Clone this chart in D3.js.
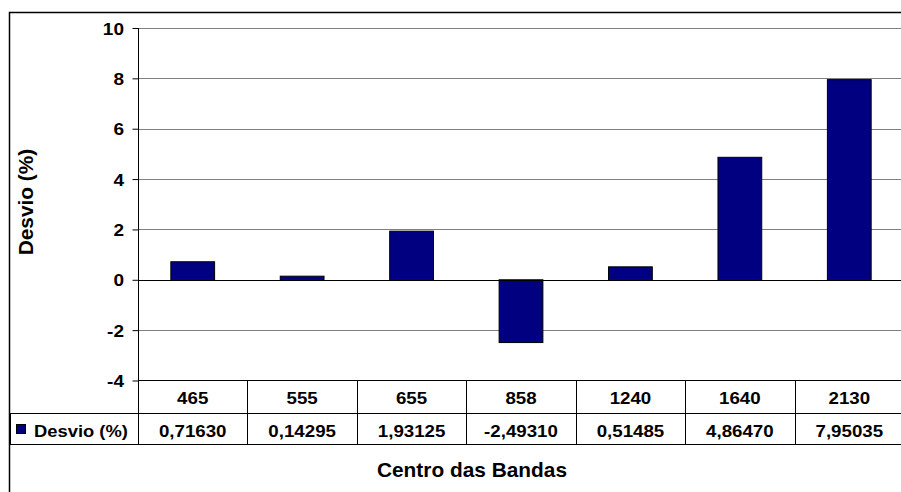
<!DOCTYPE html>
<html>
<head>
<meta charset="utf-8">
<script src="https://cdn.jsdelivr.net/npm/d3@7"></script>
<style>
  body { margin: 0; background: #fff; }
  text { font-family: "Liberation Sans", Arial, sans-serif; font-weight: bold; fill: #000; }
</style>
</head>
<body>
<svg id="chart" width="901" height="492"></svg>
<script>
// chart data
const bandas = ["465", "555", "655", "858", "1240", "1640", "2130"];
const desvio = [0.71630, 0.14295, 1.93125, -2.49310, 0.51485, 4.86470, 7.95035];
const yTicks = [-4, -2, 0, 2, 4, 6, 8, 10];
const serieNome = "Desvio (%)";
const eixoX = "Centro das Bandas";
const eixoY = "Desvio (%)";

const svg = d3.select("#chart");

const plotLeft = 138, plotRight = 904;
const plotTop = 28, tableTop = 380.5;
const rowMid = 413, tableBottom = 444;

// scales
const xCol = d3.scaleBand()
	.domain(bandas)
	.range([plotLeft, plotRight]);

const xBar = d3.scaleBand()
	.domain(bandas)
	.range([plotLeft, plotRight])
	.paddingInner(0.6)
	.paddingOuter(0.3);

const y = d3.scaleLinear()
	.domain([-4, 10])
	.range([tableTop, plotTop]);

// Excel style numbers: comma decimal, plain hyphen minus
const locale = d3.formatLocale({
	decimal: ",", thousands: ".", grouping: [3], currency: ["", ""], minus: "-"
});
const fmt = locale.format(".5f");
const fmtTick = locale.format("d");

// text with the slightly wide Excel look
function label(g, x, yy, s, size, sx, anchor) {
	return g.append("text")
		.attr("transform", "translate(" + x + "," + yy + ") scale(" + sx + ",1)")
		.attr("text-anchor", anchor)
		.style("font-size", size + "px")
		.text(s);
}

// outer chart border
svg.append("rect")
	.attr("x", 9.5).attr("y", 12.5)
	.attr("width", 1000).attr("height", 1000)
	.attr("fill", "none")
	.attr("stroke", "#000")
	.attr("stroke-width", 1.5);

// gridlines
svg.append("g")
	.selectAll("line")
	.data(yTicks.filter(d => d > -4 && d != 0))
	.join("line")
	.attr("x1", plotLeft).attr("x2", plotRight)
	.attr("y1", d => Math.round(y(d)) + 0.5)
	.attr("y2", d => Math.round(y(d)) + 0.5)
	.attr("stroke", "#808080");

// bars
svg.append("g")
	.selectAll("rect")
	.data(desvio)
	.join("rect")
	.attr("x", (d, i) => xBar(bandas[i]))
	.attr("width", xBar.bandwidth())
	.attr("y", d => y(Math.max(0, d)))
	.attr("height", d => Math.abs(y(d) - y(0)))
	.attr("fill", "#000080")
	.attr("stroke", "#000")
	.attr("stroke-width", 1);

// zero line
svg.append("line")
	.attr("x1", plotLeft).attr("x2", plotRight)
	.attr("y1", Math.round(y(0)) + 0.5).attr("y2", Math.round(y(0)) + 0.5)
	.attr("stroke", "#000");

// y axis
const yAxis = svg.append("g")
	.attr("transform", "translate(" + (plotLeft + 0.5) + ",0)")
	.call(d3.axisLeft(y).tickValues(yTicks).tickSize(6).tickFormat(fmtTick));
yAxis.select(".domain").remove();
yAxis.selectAll(".tick line").attr("stroke", "#000");
yAxis.selectAll(".tick text")
	.attr("x", -14.5 / 1.12)
	.attr("dy", "0.36em")
	.attr("transform", "scale(1.12,1)")
	.style("font-size", "17px");

svg.append("line")
	.attr("x1", plotLeft + 0.5).attr("x2", plotLeft + 0.5)
	.attr("y1", plotTop).attr("y2", tableBottom)
	.attr("stroke", "#000");

// data table
const table = svg.append("g");

table.append("line")
	.attr("x1", plotLeft).attr("x2", plotRight)
	.attr("y1", tableTop).attr("y2", tableTop)
	.attr("stroke", "#000");

[rowMid, tableBottom].forEach(yy => {
	table.append("line")
		.attr("x1", 10).attr("x2", plotRight)
		.attr("y1", yy + 0.5).attr("y2", yy + 0.5)
		.attr("stroke", "#000");
});

table.append("line")
	.attr("x1", 10.5).attr("x2", 10.5)
	.attr("y1", rowMid).attr("y2", tableBottom)
	.attr("stroke", "#000");

table.selectAll(".col")
	.data(bandas.slice(1))
	.join("line")
	.attr("x1", d => Math.round(xCol(d)) + 0.5)
	.attr("x2", d => Math.round(xCol(d)) + 0.5)
	.attr("y1", tableTop).attr("y2", tableBottom)
	.attr("stroke", "#000");

bandas.forEach((b, i) => {
	const cx = xCol(b) + xCol.bandwidth() / 2;
	label(table, cx, 403.5, b, 17, 1.1, "middle");
	label(table, cx, 437, fmt(desvio[i]), 17, 1.1, "middle");
});

// legend key in the table
table.append("rect")
	.attr("x", 16.5).attr("y", 424.5)
	.attr("width", 9).attr("height", 9)
	.attr("fill", "#000080")
	.attr("stroke", "#000");
label(table, 34, 437, serieNome, 17, 1.08, "start");

// axis titles
label(svg, 472, 476.5, eixoX, 19.5, 1.07, "middle");

svg.append("text")
	.attr("transform", "translate(33,202) rotate(-90) scale(1.07,1)")
	.attr("text-anchor", "middle")
	.style("font-size", "19.5px")
	.text(eixoY);
</script>
</body>
</html>
